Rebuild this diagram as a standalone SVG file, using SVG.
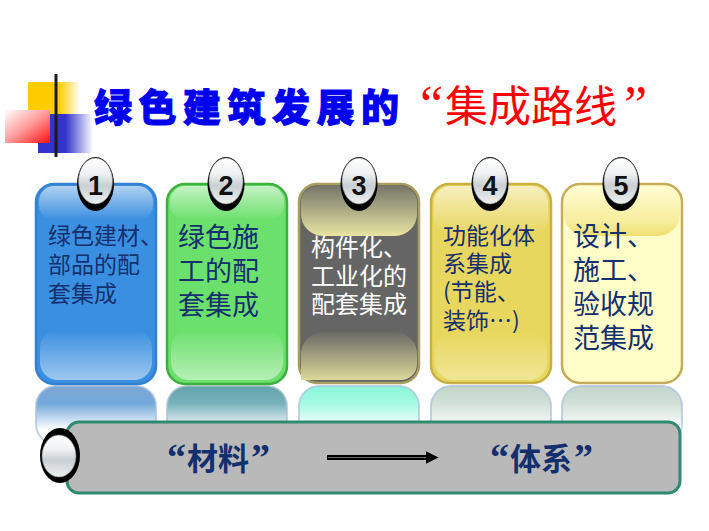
<svg xmlns="http://www.w3.org/2000/svg" width="709" height="531" viewBox="0 0 709 531">
<style>
.cjk{font-family:"Noto Sans CJK SC","Noto Sans",sans-serif}
.ct{font-family:"Noto Sans CJK SC","Noto Sans",sans-serif;fill:#15306e}
.num{font-family:"Liberation Sans",Arial,sans-serif;font-weight:bold;font-size:27px;fill:#111;text-anchor:middle}
.rim{fill:#000}
.silver{fill:url(#silver);stroke:#8a8a8a;stroke-width:0.6}
.card{stroke-width:2.5}
.refl{stroke-width:2}
</style>
<defs>
<linearGradient id="silver" x1="0" y1="0" x2="0" y2="1">
<stop offset="0" stop-color="#ffffff"/><stop offset="0.35" stop-color="#eef0f1"/><stop offset="0.6" stop-color="#c9cfd3"/><stop offset="1" stop-color="#eef0f0"/>
</linearGradient>
<linearGradient id="yel" x1="0" y1="0" x2="1" y2="0">
<stop offset="0" stop-color="#ffcc00"/><stop offset="0.6" stop-color="#ffcc00"/><stop offset="1" stop-color="#ffffff"/>
</linearGradient>
<linearGradient id="blu" x1="0" y1="0" x2="1" y2="0">
<stop offset="0" stop-color="#3333cc"/><stop offset="0.5" stop-color="#3333cc"/><stop offset="1" stop-color="#ffffff"/>
</linearGradient>
<linearGradient id="pnk" x1="0" y1="0" x2="1" y2="1">
<stop offset="0" stop-color="#ffffff"/><stop offset="0.5" stop-color="#ff9a9a"/><stop offset="1" stop-color="#ff1010"/>
</linearGradient>
<linearGradient id="hline" x1="0" y1="0" x2="1" y2="0">
<stop offset="0" stop-color="#1a1a1a"/><stop offset="0.5" stop-color="#8a8a8a"/><stop offset="1" stop-color="#ffffff"/>
</linearGradient>
<linearGradient id="glossTop" x1="0" y1="0" x2="0" y2="1">
<stop offset="0" stop-color="#fff" stop-opacity="0.6"/><stop offset="1" stop-color="#fff" stop-opacity="0"/>
</linearGradient>
<linearGradient id="glossBot" x1="0" y1="0" x2="0" y2="1">
<stop offset="0" stop-color="#fff" stop-opacity="0"/><stop offset="1" stop-color="#fff" stop-opacity="0.5"/>
</linearGradient>
<linearGradient id="c3top" x1="0" y1="0" x2="0" y2="1">
<stop offset="0" stop-color="#76766a"/><stop offset="1" stop-color="#e8e4a2"/>
</linearGradient>
<linearGradient id="c3bot" x1="0" y1="0" x2="0" y2="1">
<stop offset="0" stop-color="#6a6a66"/><stop offset="1" stop-color="#dcd89a"/>
</linearGradient>
<linearGradient id="c5top" x1="0" y1="0" x2="0" y2="1">
<stop offset="0" stop-color="#fffcd2"/><stop offset="0.7" stop-color="#f8ee9e"/><stop offset="1" stop-color="#efdf72"/>
</linearGradient>
<linearGradient id="r1" x1="0" y1="0" x2="0" y2="1">
<stop offset="0" stop-color="#7ba6d2"/><stop offset="0.3" stop-color="#74a8dc"/><stop offset="0.75" stop-color="#ffffff"/>
</linearGradient>
<linearGradient id="r2" x1="0" y1="0" x2="0" y2="1">
<stop offset="0" stop-color="#62a2ac"/><stop offset="0.3" stop-color="#78b2bc"/><stop offset="0.75" stop-color="#ffffff"/>
</linearGradient>
<linearGradient id="r3" x1="0" y1="0" x2="0" y2="1">
<stop offset="0" stop-color="#88f6d8"/><stop offset="0.3" stop-color="#a6fae4"/><stop offset="0.75" stop-color="#ffffff"/>
</linearGradient>
<linearGradient id="r4" x1="0" y1="0" x2="0" y2="1">
<stop offset="0" stop-color="#c2d6ca"/><stop offset="0.3" stop-color="#d2e0d8"/><stop offset="0.75" stop-color="#ffffff"/>
</linearGradient>
<marker id="ah" markerWidth="4" markerHeight="4" refX="0.5" refY="1.3" orient="auto" markerUnits="strokeWidth" viewBox="0 0 4 2.6">
<path d="M0,0 L2.6,1.3 L0,2.6 z" fill="#000"/>
</marker>
</defs>

<g id="decoration">
<rect x="28" y="82" width="52" height="36" fill="url(#yel)"/>
<rect x="38" y="114" width="55" height="39" fill="url(#blu)"/>
<rect x="5" y="110" width="45" height="33" fill="url(#pnk)"/>
<line x1="56" y1="74" x2="56" y2="157" stroke="#1a1a1a" stroke-width="3"/>
<line x1="29" y1="137.5" x2="690" y2="137.5" stroke="url(#hline)" stroke-width="3"/>
</g>

<g id="title">
<text class="cjk" x="94" y="121" font-size="38" font-weight="900" letter-spacing="6.5" fill="#0000ee" stroke="#0000ee" stroke-width="1">绿色建筑发展的</text>
<text font-family="Liberation Serif,'Noto Sans CJK SC',serif" y="122" fill="#ff0000"><tspan x="420" font-size="52">“</tspan><tspan x="445" font-size="43" font-family="Noto Sans CJK SC,sans-serif">集成路线</tspan><tspan x="624" font-size="52">”</tspan></text>
</g>

<g id="reflections">
<rect class="refl" x="36" y="386" width="120" height="58" rx="20" fill="url(#r1)" stroke="#a9c0d8" stroke-opacity="0.7"/>
<rect class="refl" x="167" y="386" width="120" height="58" rx="20" fill="url(#r2)" stroke="#a9c0d0" stroke-opacity="0.7"/>
<rect class="refl" x="299" y="386" width="120" height="58" rx="20" fill="url(#r3)" stroke="#a9c0d8" stroke-opacity="0.7"/>
<rect class="refl" x="431" y="386" width="120" height="58" rx="20" fill="url(#r4)" stroke="#a9c0d8" stroke-opacity="0.7"/>
<rect class="refl" x="562" y="386" width="120" height="58" rx="20" fill="url(#r4)" stroke="#a9c0d8" stroke-opacity="0.7"/>
</g>

<g id="card1">
<rect class="card" x="36" y="184" width="120" height="200" rx="18" fill="#3b8fe0" stroke="#3480d0"/>
<rect x="39" y="186" width="114" height="34" rx="15" fill="url(#glossTop)"/>
<rect x="40" y="330" width="112" height="50" rx="18" fill="url(#glossBot)"/>
<ellipse class="rim" cx="95.5" cy="184" rx="18.5" ry="27"/>
<ellipse class="silver" cx="95.5" cy="181" rx="17" ry="23"/>
<text class="num" x="95.5" y="195">1</text>
<text class="ct" font-size="23"><tspan x="48" y="244">绿色建材、</tspan><tspan x="48" y="273">部品的配</tspan><tspan x="48" y="302">套集成</tspan></text>
</g>

<g id="card2">
<rect class="card" x="167" y="184" width="120" height="200" rx="18" fill="#6ce06c" stroke="#3fb040"/>
<rect x="170" y="186" width="114" height="34" rx="15" fill="url(#glossTop)"/>
<rect x="171" y="330" width="112" height="50" rx="18" fill="url(#glossBot)"/>
<ellipse class="rim" cx="226" cy="184" rx="18.5" ry="27"/>
<ellipse class="silver" cx="226" cy="181" rx="17" ry="23"/>
<text class="num" x="226" y="195">2</text>
<text class="ct" font-size="27"><tspan x="178" y="247">绿色施</tspan><tspan x="178" y="281">工的配</tspan><tspan x="178" y="315">套集成</tspan></text>
</g>

<g id="card3">
<rect class="card" x="299" y="184" width="120" height="199" rx="18" fill="#656565" stroke="#a89e5e"/>
<path d="M301,200 a16,16 0 0 1 16,-14 h84 a16,16 0 0 1 16,14 v14 a22,22 0 0 1 -22,22 h-72 a22,22 0 0 1 -22,-22 z" fill="url(#c3top)"/>
<path d="M301,380 v-26 a22,22 0 0 1 22,-22 h72 a22,22 0 0 1 22,22 v10 a16,16 0 0 1 -16,16 z" fill="url(#c3bot)"/>
<ellipse class="rim" cx="359" cy="184" rx="18.5" ry="27"/>
<ellipse class="silver" cx="359" cy="181" rx="17" ry="23"/>
<text class="num" x="359" y="195">3</text>
<text class="cjk" font-size="24" fill="#ffffff"><tspan x="311" y="256">构件化、</tspan><tspan x="311" y="285">工业化的</tspan><tspan x="311" y="313">配套集成</tspan></text>
</g>

<g id="card4">
<rect class="card" x="431" y="184" width="120" height="199" rx="18" fill="#e8d75e" stroke="#c9b046"/>
<rect x="434" y="186" width="114" height="48" rx="16" fill="url(#glossTop)"/>
<rect x="435" y="332" width="112" height="48" rx="18" fill="url(#glossBot)" opacity="0.7"/>
<ellipse class="rim" cx="490" cy="184" rx="18.5" ry="27"/>
<ellipse class="silver" cx="490" cy="181" rx="17" ry="23"/>
<text class="num" x="490" y="195">4</text>
<text class="ct" font-size="23"><tspan x="443" y="244">功能化体</tspan><tspan x="443" y="272">系集成</tspan><tspan x="443" y="300">(节能、</tspan><tspan x="443" y="329">装饰…)</tspan></text>
</g>

<g id="card5">
<rect class="card" x="562" y="184" width="120" height="199" rx="18" fill="#fffdc8" stroke="#c5ab5a"/>
<path d="M564,200 a16,16 0 0 1 16,-14 h84 a16,16 0 0 1 16,14 v14 a22,22 0 0 1 -22,22 h-72 a22,22 0 0 1 -22,-22 z" fill="url(#c5top)"/>
<ellipse class="rim" cx="621" cy="184" rx="18.5" ry="27"/>
<ellipse class="silver" cx="621" cy="181" rx="17" ry="23"/>
<text class="num" x="621" y="195">5</text>
<text class="ct" font-size="27"><tspan x="573" y="246">设计、</tspan><tspan x="573" y="280">施工、</tspan><tspan x="573" y="314">验收规</tspan><tspan x="573" y="348">范集成</tspan></text>
</g>

<g id="bar">
<rect x="67" y="422" width="613" height="71" rx="12" fill="#b9b9b9" stroke="#2f8a70" stroke-width="3"/>
<ellipse class="rim" cx="60" cy="455.5" rx="20" ry="27.5"/>
<ellipse class="silver" cx="59" cy="456" rx="17" ry="21"/>
<text font-family="Liberation Serif,'Noto Sans CJK SC',serif" font-weight="bold" y="470" fill="#142f6e"><tspan x="167" font-size="38">“</tspan><tspan x="187" font-size="31" font-family="Noto Sans CJK SC,sans-serif">材料</tspan><tspan x="251" font-size="38">”</tspan></text>
<text font-family="Liberation Serif,'Noto Sans CJK SC',serif" font-weight="bold" y="470" fill="#142f6e"><tspan x="490" font-size="38">“</tspan><tspan x="510" font-size="31" font-family="Noto Sans CJK SC,sans-serif">体系</tspan><tspan x="574" font-size="38">”</tspan></text>
</g>

<g id="connectors">
<line x1="327" y1="457.5" x2="428" y2="457.5" stroke="#000" stroke-width="5" marker-end="url(#ah)"/>
<line x1="328" y1="457.5" x2="426" y2="457.5" stroke="#6a6a6a" stroke-width="1"/>
</g>
</svg>
